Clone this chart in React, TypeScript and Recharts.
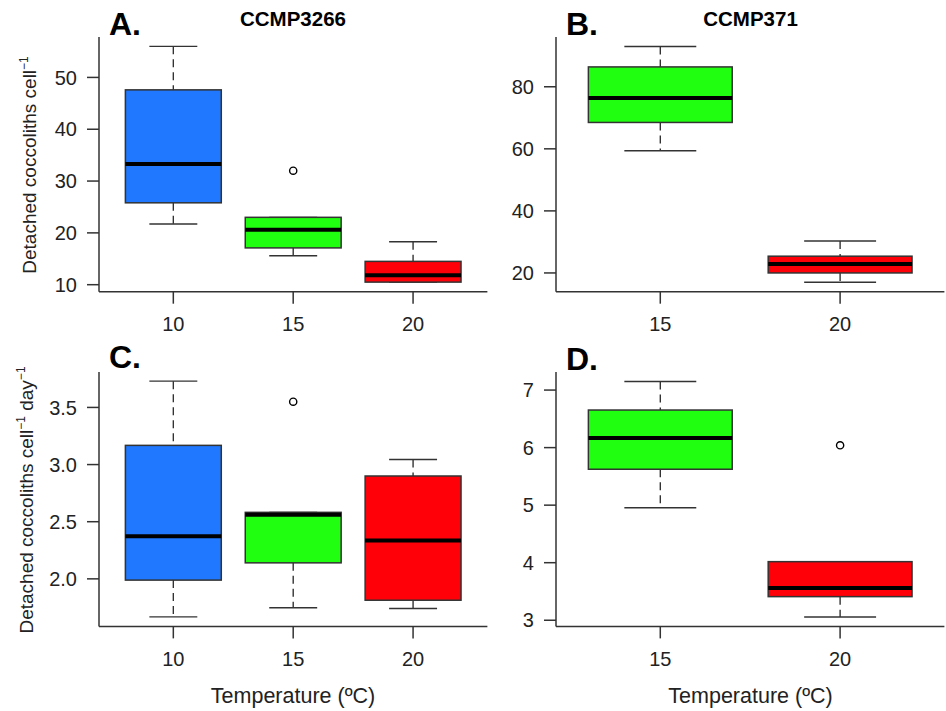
import React from 'react';
import { ComposedChart, Bar, XAxis, YAxis } from 'recharts';

// Panel A - CCMP3266, detached coccoliths per cell
const tempsA = ['10', '15', '20'];
const minA = [21.7, 15.6, 10.5];
const q1A = [25.8, 17.1, 10.5];
const medA = [33.3, 20.6, 11.8];
const q3A = [47.6, 23.0, 14.5];
const maxA = [56.0, 23.0, 18.3];
const outA = [null, 32.0, null];
const ticksA = [10, 20, 30, 40, 50];

// Panel B - CCMP371, detached coccoliths per cell
const tempsB = ['15', '20'];
const minB = [59.4, 17.0];
const q1B = [68.5, 20.0];
const medB = [76.4, 22.9];
const q3B = [86.4, 25.4];
const maxB = [93.0, 30.3];
const outB = [null, null];
const ticksB = [20, 40, 60, 80];

// Panel C - CCMP3266, per cell per day
const tempsC = ['10', '15', '20'];
const minC = [1.667, 1.747, 1.74];
const q1C = [1.989, 2.14, 1.813];
const medC = [2.372, 2.56, 2.335];
const q3C = [3.168, 2.582, 2.9];
const maxC = [3.73, 2.582, 3.045];
const outC = [null, 3.55, null];
const ticksC = [2.0, 2.5, 3.0, 3.5];

// Panel D - CCMP371, per cell per day
const tempsD = ['15', '20'];
const minD = [4.954, 3.057];
const q1D = [5.624, 3.41];
const medD = [6.168, 3.56];
const q3D = [6.653, 4.018];
const maxD = [7.15, 4.018];
const outD = [null, 6.04];
const ticksD = [3, 4, 5, 6, 7];

const colorByTemp: Record<string, string> = {
  '10': '#1F78FF',
  '15': '#20FF10',
  '20': '#FF0008',
};

const FONT = '"Liberation Sans", Arial, Helvetica, sans-serif';
const INK = '#333';
const YW = 70;
const XH = 45;

const buildRows = (temps, mins, q1s, meds, q3s, maxs, outs) =>
  temps.map((t, i) => ({
    temp: t,
    min: mins[i],
    q1: q1s[i],
    median: meds[i],
    q3: q3s[i],
    max: maxs[i],
    outlier: outs[i],
  }));

// draws one box: the bar gives the q1..q3 span from the y scale,
// everything else is placed on that same linear scale
const BoxShape = (props: any) => {
  const { x, y, width, height, payload } = props;
  if (!payload || width == null) return null;
  const top = Math.min(y, y + height);
  const bot = Math.max(y, y + height);
  const { q1, q3, min, max, median, outlier, temp } = payload;
  const yOf = (v: number) => bot - ((v - q1) / (q3 - q1)) * (bot - top);
  const cx = x + width / 2;
  const cap = width / 4;
  return (
    <g>
      {max > q3 && (
        <line x1={cx} x2={cx} y1={yOf(max)} y2={top} stroke={INK} strokeWidth={1.4} strokeDasharray="8 5" />
      )}
      {min < q1 && (
        <line x1={cx} x2={cx} y1={bot} y2={yOf(min)} stroke={INK} strokeWidth={1.4} strokeDasharray="8 5" />
      )}
      <line x1={cx - cap} x2={cx + cap} y1={yOf(max)} y2={yOf(max)} stroke={INK} strokeWidth={1.4} />
      <line x1={cx - cap} x2={cx + cap} y1={yOf(min)} y2={yOf(min)} stroke={INK} strokeWidth={1.4} />
      <rect x={x} y={top} width={width} height={bot - top} fill={colorByTemp[temp]} stroke={INK} strokeWidth={1.5} />
      <line x1={x} x2={x + width} y1={yOf(median)} y2={yOf(median)} stroke="#000" strokeWidth={4} />
      {outlier != null && (
        <circle cx={cx} cy={yOf(outlier)} r={3.6} fill="#fff" stroke="#000" strokeWidth={1.4} />
      )}
    </g>
  );
};

interface PanelProps {
  rows: any[];
  domain: [number, number];
  ticks: number[];
  plot: { x0: number; x1: number; y0: number; y1: number };
  fmt?: (v: number) => string;
}

const BoxPanel = ({ rows, domain, ticks, plot, fmt }: PanelProps) => {
  const n = rows.length;
  const plotW = plot.x1 - plot.x0;
  const pad = (plotW * 0.04) / 1.08;
  const spacing = (plotW - 2 * pad) / n;
  const w = plotW + YW + 5;
  const h = plot.y1 - plot.y0 + 5 + XH + 5;
  return (
    <div style={{ position: 'absolute', left: plot.x0 - YW, top: plot.y0 - 5 }}>
      <ComposedChart
        width={w}
        height={h}
        data={rows}
        margin={{ top: 5, right: 5, left: 0, bottom: 5 }}
      >
        <XAxis
          dataKey="temp"
          type="category"
          padding={{ left: pad, right: pad }}
          height={XH}
          tickSize={12}
          tickMargin={13}
          axisLine={{ stroke: INK, strokeWidth: 1.5 }}
          tickLine={{ stroke: INK, strokeWidth: 1.5 }}
          tick={{ fill: '#222', fontSize: 20, fontFamily: FONT }}
          interval={0}
        />
        <YAxis
          type="number"
          domain={domain}
          ticks={ticks}
          allowDataOverflow
          width={YW}
          tickSize={12}
          tickMargin={10}
          tickFormatter={fmt}
          axisLine={{ stroke: INK, strokeWidth: 1.5 }}
          tickLine={{ stroke: INK, strokeWidth: 1.5 }}
          tick={{ fill: '#222', fontSize: 20, fontFamily: FONT }}
          interval={0}
        />
        <Bar
          dataKey={(r: any) => [r.q1, r.q3]}
          barSize={spacing * 0.8}
          shape={BoxShape}
          isAnimationActive={false}
        />
      </ComposedChart>
    </div>
  );
};

const sup = (s: string) => (
  <tspan dy={-8} fontSize={12}>
    {s}
  </tspan>
);

export default function App() {
  const rowsA = buildRows(tempsA, minA, q1A, medA, q3A, maxA, outA);
  const rowsB = buildRows(tempsB, minB, q1B, medB, q3B, maxB, outB);
  const rowsC = buildRows(tempsC, minC, q1C, medC, q3C, maxC, outC);
  const rowsD = buildRows(tempsD, minD, q1D, medD, q3D, maxD, outD);

  const left = { x0: 99, x1: 487.4 };
  const right = { x0: 556.3, x1: 944.7 };
  const topRow = { y0: 37, y1: 291.7 };
  const botRow = { y0: 372.3, y1: 626.7 };

  return (
    <div style={{ position: 'absolute', left: 0, top: 0, width: 946, height: 711, background: '#fff', fontFamily: FONT }}>
      <BoxPanel rows={rowsA} domain={[8.65, 57.8]} ticks={ticksA} plot={{ ...left, ...topRow }} />
      <BoxPanel rows={rowsB} domain={[13.96, 96.04]} ticks={ticksB} plot={{ ...right, ...topRow }} />
      <BoxPanel
        rows={rowsC}
        domain={[1.584, 3.81]}
        ticks={ticksC}
        plot={{ ...left, ...botRow }}
        fmt={(v) => v.toFixed(1)}
      />
      <BoxPanel rows={rowsD} domain={[2.893, 7.314]} ticks={ticksD} plot={{ ...right, ...botRow }} />

      <svg width={946} height={711} style={{ position: 'absolute', left: 0, top: 0, pointerEvents: 'none' }}>
        <g fontFamily={FONT} fill="#000">
          <text x={109} y={35} fontSize={32} fontWeight="bold">A.</text>
          <text x={566} y={35} fontSize={32} fontWeight="bold">B.</text>
          <text x={109} y={368} fontSize={32} fontWeight="bold">C.</text>
          <text x={566} y={370} fontSize={32} fontWeight="bold">D.</text>
          <text x={293} y={26} fontSize={20.5} fontWeight="bold" textAnchor="middle">CCMP3266</text>
          <text x={750.5} y={26} fontSize={20.5} fontWeight="bold" textAnchor="middle">CCMP371</text>
        </g>
        <g fontFamily={FONT} fill="#222" fontSize={19}>
          <text transform="translate(36,165) rotate(-90)" textAnchor="middle">
            Detached coccoliths cell{sup('\u22121')}
          </text>
          <text transform="translate(33,500) rotate(-90)" textAnchor="middle">
            Detached coccoliths cell{sup('\u22121')}
            <tspan dy={8}> day</tspan>
            {sup('\u22121')}
          </text>
          <text x={293} y={703} fontSize={21.5} textAnchor="middle">Temperature (ºC)</text>
          <text x={750.5} y={703} fontSize={21.5} textAnchor="middle">Temperature (ºC)</text>
        </g>
      </svg>
    </div>
  );
}
